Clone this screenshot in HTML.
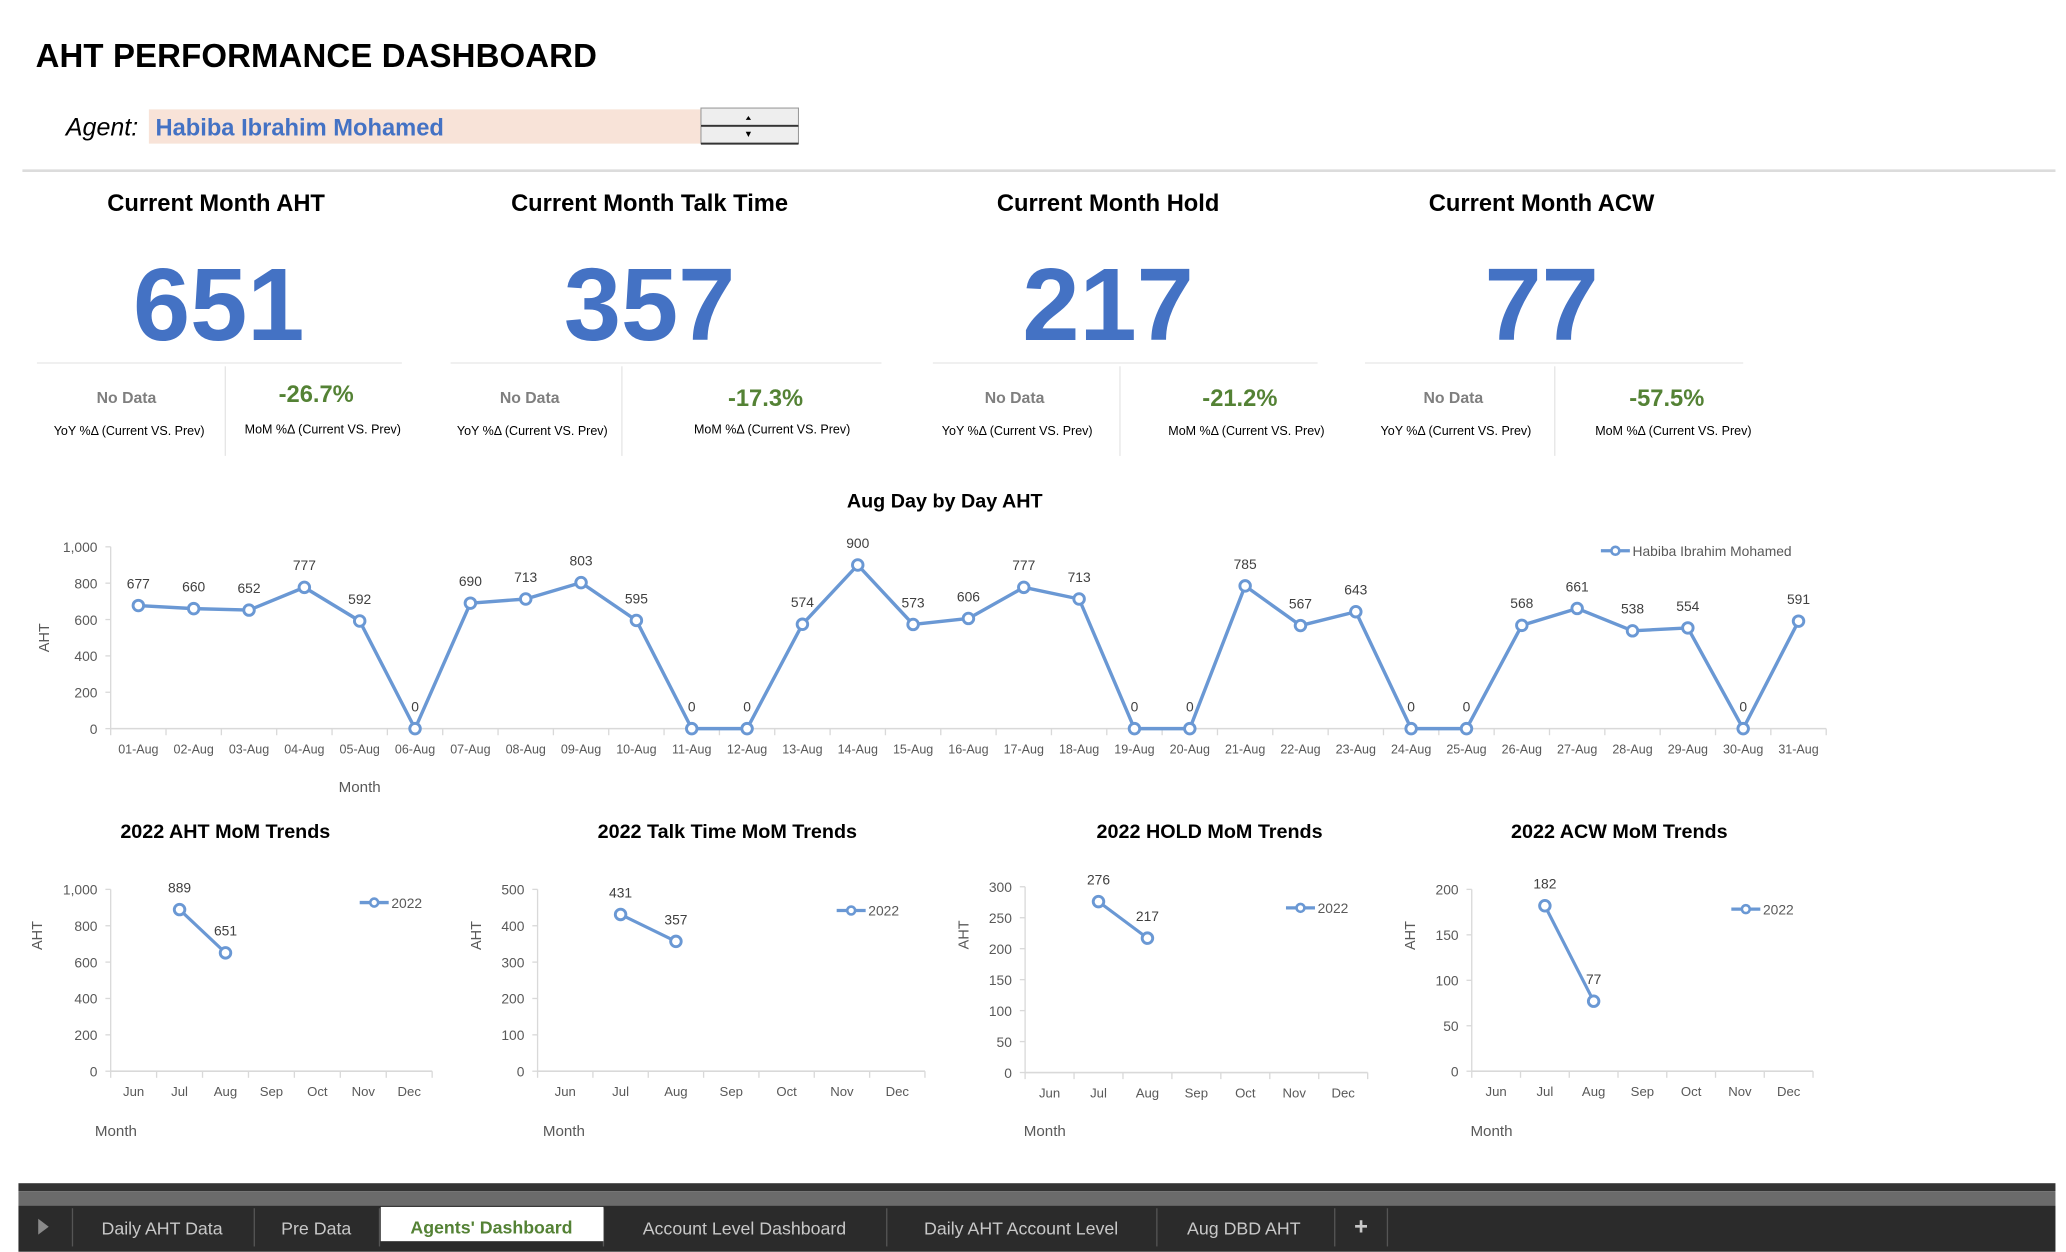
<!DOCTYPE html>
<html><head><meta charset="utf-8">
<style>
html,body{margin:0;padding:0;background:#fff;}
body{width:2066px;height:1252px;overflow:hidden;}
svg{display:block;font-family:"Liberation Sans",sans-serif;}
</style></head>
<body>
<svg id="root" width="2066" height="1252" viewBox="0 0 1568 950.2">
  <text x="27" y="51" font-size="25" font-weight="bold" fill="#000" textLength="426">AHT PERFORMANCE DASHBOARD</text>
  <text x="50" y="103" font-size="19" font-style="italic" fill="#000">Agent:</text>
  <rect x="113" y="83" width="419" height="26" fill="#f8e3d8"/>
  <text x="118" y="103" font-size="18" font-weight="bold" fill="#4472c4">Habiba Ibrahim Mohamed</text>
  <g>
    <rect x="532" y="82" width="74" height="13" fill="#eee" stroke="#999" stroke-width="0.8"/>
    <rect x="532" y="96" width="74" height="13" fill="#eee" stroke="#999" stroke-width="0.8"/>
    <line x1="532" y1="109" x2="606" y2="109" stroke="#333" stroke-width="1.5"/>
    <line x1="532" y1="95.5" x2="606" y2="95.5" stroke="#333" stroke-width="1.2"/>
    <path d="M566,91 l2,-3 l2,3 z" fill="#000"/>
    <path d="M566,100 l2,4 l2,-4 z" fill="#000"/>
  </g>
  <line x1="17" y1="129.5" x2="1560" y2="129.5" stroke="#dcdcdc" stroke-width="2"/>
  <g id="kpis"></g>
  <g id="daychart"></g>
  <g id="minis"></g>
  <g id="tabs"></g>
</svg>
<script>
const NS="http://www.w3.org/2000/svg";
function el(tag,attrs,parent,txt){const e=document.createElementNS(NS,tag);for(const k in attrs)e.setAttribute(k,attrs[k]);if(txt!==undefined)e.textContent=txt;parent.appendChild(e);return e;}

// KPI data
const kpiTitles=["Current Month AHT","Current Month Talk Time","Current Month Hold","Current Month ACW"];
const kpiValues=["651","357","217","77"];
const kpiMoM=["-26.7%","-17.3%","-21.2%","-57.5%"];
const kpiCenters=[164,493,841,1170];
const kpiLineL=[28,342,708,1036],kpiLineR=[305,669,1000,1323],kpiDiv=[171,472,850,1180];
const kpiNoData=[96,402,770,1103],kpiPct=[240,581,941,1265];
const K=document.getElementById('kpis');
for(let i=0;i<4;i++){
  const g=el('g',{},K);
  
  
  let t=el('text',{x:kpiCenters[i],y:160,'font-size':18,'font-weight':'bold','text-anchor':'middle',fill:'#000'},g,kpiTitles[i]);
  
  
  t=el('text',{x:kpiCenters[i]+(i==0?2:0),y:258,'font-size':78,'font-weight':'bold','text-anchor':'middle',fill:'#4472c4'},g,kpiValues[i]);
  
  
  el('line',{x1:kpiLineL[i],y1:275.5,x2:kpiLineR[i],y2:275.5,stroke:'#e6e6e6','stroke-width':1},g);
  el('line',{x1:kpiDiv[i],y1:278,x2:kpiDiv[i],y2:346,stroke:'#e6e6e6','stroke-width':1},g);
  t=el('text',{x:kpiNoData[i],y:306,'font-size':12,'font-weight':'bold','text-anchor':'middle',fill:'#7f7f7f'},g,'No Data');
  
  
  t=el('text',{x:kpiPct[i],y:i==0?305:308,'font-size':18,'font-weight':'bold','text-anchor':'middle',fill:'#548235'},g,kpiMoM[i]);
  
  
  t=el('text',{x:kpiNoData[i]+2,y:330,'font-size':9.5,'text-anchor':'middle',fill:'#000'},g,'YoY %Δ (Current VS. Prev)');
  
  
  t=el('text',{x:kpiPct[i]+5,y:i<2?329:330,'font-size':9.5,'text-anchor':'middle',fill:'#000'},g,'MoM %Δ (Current VS. Prev)');
  
  
}

// Day-by-day chart data
const dayLabels=["01-Aug","02-Aug","03-Aug","04-Aug","05-Aug","06-Aug","07-Aug","08-Aug","09-Aug","10-Aug","11-Aug","12-Aug","13-Aug","14-Aug","15-Aug","16-Aug","17-Aug","18-Aug","19-Aug","20-Aug","21-Aug","22-Aug","23-Aug","24-Aug","25-Aug","26-Aug","27-Aug","28-Aug","29-Aug","30-Aug","31-Aug"];
const dayValues=[677,660,652,777,592,0,690,713,803,595,0,0,574,900,573,606,777,713,0,0,785,567,643,0,0,568,661,538,554,0,591];
const dayTicks=[0,200,400,600,800,1000];
const dayTickLabels=["0","200","400","600","800","1,000"];
const LINE='#6a98d4';
function drawLineChart(parent,o){
  const n=o.cats.length,bw=(o.x1-o.x0)/n;
  const X=i=>o.x0+bw*(i+0.5);
  const Y=v=>o.y0-(v-o.min)/(o.max-o.min)*(o.y0-o.y1);
  el('line',{x1:o.x0,y1:o.y0,x2:o.x0,y2:o.y1,stroke:'#d9d9d9','stroke-width':1},parent);
  el('line',{x1:o.x0,y1:o.y0,x2:o.x1,y2:o.y0,stroke:'#d9d9d9','stroke-width':1.2},parent);
  for(let i=0;i<=n;i++)el('line',{x1:o.x0+bw*i,y1:o.y0,x2:o.x0+bw*i,y2:o.y0+5,stroke:'#d9d9d9','stroke-width':1},parent);
  o.ticks.forEach((t,i)=>{
    el('line',{x1:o.x0-4,y1:Y(t),x2:o.x0,y2:Y(t),stroke:'#d9d9d9','stroke-width':1},parent);
    const tl=el('text',{x:o.x0-10,y:Y(t)+4,'font-size':10.5,'text-anchor':'end',fill:'#595959'},parent,o.tickLabels[i]);
    
    
  });
  o.cats.forEach((c,i)=>{
    const tl=el('text',{x:X(i),y:o.y0+19,'font-size':o.catSize,'text-anchor':'middle',fill:'#595959'},parent,c);
    
    
  });
  let d='';let pen=false;
  o.vals.forEach((v,i)=>{if(v===null){pen=false;return;}d+=(pen?'L':'M')+X(i)+','+Y(v);pen=true;});
  const p=el('path',{d:d,fill:'none',stroke:LINE,'stroke-width':o.lw,'stroke-linejoin':'round'},parent);
  
  
  o.vals.forEach((v,i)=>{
    if(v===null)return;
    const c=el('circle',{cx:X(i),cy:Y(v),r:4,fill:'#fff',stroke:LINE,'stroke-width':2.2},parent);
    
    
    const lbl=el('text',{x:X(i)+(o.lblDx?o.lblDx[i]||0:0),y:Y(v)-(o.lblUp?o.lblUp[i]:13),'font-size':10.5,'text-anchor':'middle',fill:'#404040'},parent,String(v));
    
    
  });
  const at=el('text',{x:0,y:0,'font-size':11,'text-anchor':'middle',fill:'#595959',transform:'translate('+o.axX+','+((o.y0+o.y1)/2-(o.axShift||0))+') rotate(-90)'},parent,'AHT');
  
  
  const mt=el('text',{x:o.monthX,y:o.monthY,'font-size':11.5,fill:'#595959'},parent,'Month');
  
  
  const lg=el('g',{},parent);
  
  
  el('line',{x1:o.legX,y1:o.legY,x2:o.legX+22,y2:o.legY,stroke:LINE,'stroke-width':2.5},lg);
  el('circle',{cx:o.legX+11,cy:o.legY,r:3,fill:'#fff',stroke:LINE,'stroke-width':2},lg);
  el('text',{x:o.legX+24,y:o.legY+4,'font-size':10.5,fill:'#595959'},lg,o.legText);
  const tt=el('text',{x:o.titleX,y:o.titleY,'font-size':o.titleSize,'font-weight':'bold','text-anchor':'middle',fill:'#000'},parent,o.title);
  
  
}
const D=document.getElementById('daychart');


drawLineChart(D,{cats:dayLabels,vals:dayValues,ticks:dayTicks,tickLabels:dayTickLabels,min:0,max:1000,
  x0:84,x1:1386,y0:553,y1:415,catSize:9.5,lw:2.6,axX:37,monthX:257,monthY:601,legX:1215,legY:418,
  legText:'Habiba Ibrahim Mohamed',title:'Aug Day by Day AHT',titleX:717,titleY:385,titleSize:15});

// Monthly trend data
const months=["Jun","Jul","Aug","Sep","Oct","Nov","Dec"];
const ahtMonthly=[null,889,651,null,null,null,null];
const talkMonthly=[null,431,357,null,null,null,null];
const holdMonthly=[null,276,217,null,null,null,null];
const acwMonthly=[null,182,77,null,null,null,null];
const ahtTicks=[0,200,400,600,800,1000],ahtTickLabels=["0","200","400","600","800","1,000"];
const talkTicks=[0,100,200,300,400,500],talkTickLabels=["0","100","200","300","400","500"];
const holdTicks=[0,50,100,150,200,250,300],holdTickLabels=["0","50","100","150","200","250","300"];
const acwTicks=[0,50,100,150,200],acwTickLabels=["0","50","100","150","200"];
const M=document.getElementById('minis');
const miniCfg=[
 {vals:ahtMonthly,ticks:ahtTicks,tickLabels:ahtTickLabels,max:1000,x0:84,x1:328,y0:813,y1:675,axX:32,monthX:72,legX:273,legY:685,title:'2022 AHT MoM Trends',titleX:171,lblUp:[0,13,13],name:'aht-trend-chart'},
 {vals:talkMonthly,ticks:talkTicks,tickLabels:talkTickLabels,max:500,x0:408,x1:702,y0:813,y1:675,axX:365,monthX:412,legX:635,legY:691,title:'2022 Talk Time MoM Trends',titleX:552,lblUp:[0,13,13],name:'talk-time-trend-chart'},
 {vals:holdMonthly,ticks:holdTicks,tickLabels:holdTickLabels,max:300,x0:778,x1:1038,y0:814,y1:673,axX:735,monthX:777,legX:976,legY:689,title:'2022 HOLD MoM Trends',titleX:918,lblUp:[0,13,13],name:'hold-trend-chart'},
 {vals:acwMonthly,ticks:acwTicks,tickLabels:acwTickLabels,max:200,x0:1117,x1:1376,y0:813,y1:675,axX:1074,monthX:1116,legX:1314,legY:690,title:'2022 ACW MoM Trends',titleX:1229,lblUp:[0,13,13],name:'acw-trend-chart'}
];
miniCfg.forEach(c=>{
  const g=el('g',{},M);
  
  
  drawLineChart(g,{cats:months,vals:c.vals,ticks:c.ticks,tickLabels:c.tickLabels,min:0,max:c.max,
    x0:c.x0,x1:c.x1,y0:c.y0,y1:c.y1,catSize:10,lw:2.4,axX:c.axX,axShift:34,monthX:c.monthX,monthY:862,
    legX:c.legX,legY:c.legY,legText:'2022',title:c.title,titleX:c.titleX,titleY:636,titleSize:15,lblUp:c.lblUp});
});

// Tabs
const T=document.getElementById('tabs');


el('rect',{x:14,y:898,width:1546,height:6,fill:'#333'},T);
el('rect',{x:14,y:904,width:1546,height:11,fill:'#6b6b6b'},T);
el('rect',{x:14,y:915,width:1546,height:35,fill:'#2b2b2b'},T);
el('path',{d:'M29,925 l8,6 l-8,6 z',fill:'#8a8a8a'},T);
const tabNames=["Daily AHT Data","Pre Data","Agents' Dashboard","Account Level Dashboard","Daily AHT Account Level","Aug DBD AHT","+"];
const tabCenters=[123,240,373,565,775,944,1033];
const tabSeps=[55,193,288,458,673,878,1013,1053];
tabSeps.forEach(x=>el('line',{x1:x,y1:917,x2:x,y2:946,stroke:'#555','stroke-width':1},T));
el('rect',{x:289,y:916,width:169,height:26,fill:'#fff'},T);
tabNames.forEach((n,i)=>{
  const active=i==2;
  const t=el('text',{x:tabCenters[i],y:active?936:937,'font-size':i==6?18:13.5,'font-weight':active||i==6?'bold':'normal','text-anchor':'middle',fill:active?'#548235':'#c8c8c8'},T,n);
  
  
});
</script>
</body></html>
